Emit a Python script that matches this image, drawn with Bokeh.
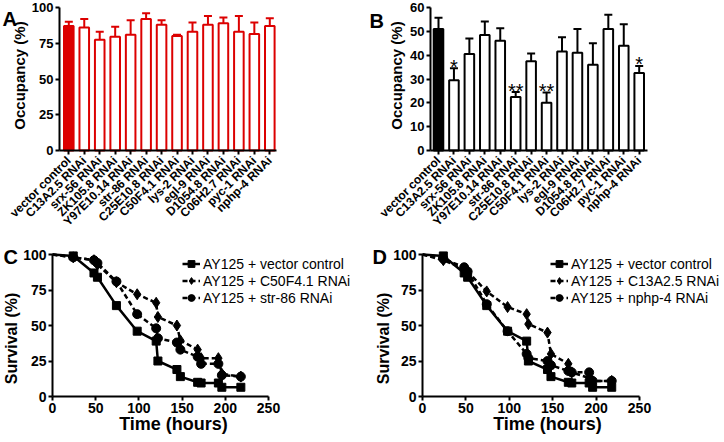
import math
from bokeh.plotting import figure
from bokeh.models import (ColumnDataSource, Whisker, TeeHead, FixedTicker, Label,
                          Legend, LegendItem, Range1d)
from bokeh.layouts import column, row
from bokeh.core.properties import value
from bokeh.embed import file_html
from bokeh.resources import INLINE

FONT = "Liberation Sans"
RED = "#dc0000"

# ---------------- data ----------------
categories = ["vector control", "C13A2.5 RNAi", "srx-56 RNAi", "ZK105.8 RNAi",
              "Y97E10.14 RNAi", "str-86 RNAi", "C25E10.8 RNAi", "C50F4.1 RNAi",
              "lys-2 RNAi", "egl-9 RNAi", "D1054.8 RNAi", "C06H2.7 RNAi",
              "pyc-1 RNAi", "nphp-4 RNAi"]
occ_a = [87, 86, 77.5, 79.5, 81, 92, 88, 80, 83, 88, 89, 83, 81.5, 87]
err_a = [3, 6, 5.5, 7, 10, 4, 3, 1, 6.5, 6, 4, 11, 8, 5.5]
occ_b = [51, 29.5, 40.5, 48.5, 46, 22.5, 37.5, 20, 41.5, 41, 36, 51, 44, 32.5]
err_b = [4.7, 5, 6.5, 5.6, 5.3, 2, 3.2, 4.3, 6, 10, 9, 6, 9, 3]
stars_b = ["", "*", "", "", "", "**", "", "**", "", "", "", "", "", "*"]
a_ticks = [0, 25, 50, 75, 100]
b_ticks = [0, 10, 20, 30, 40, 50, 60]

time_h = [0, 24, 48, 52, 74, 98, 120, 122, 144, 148, 168, 172, 192, 196, 218]
surv_vector = [100, 99, 87, 84, 64, 46, 39, 25, 19, 14, 10, 9.5, 9.5, 6.5, 6.5]
surv_c50f4_1 = [100, 98, 96, 93, 80.5, 72, 66, 56, 50, 39.5, 33, 27, 27, 16, 14]
surv_str86 = [100, 98, 96, 94, 81, 58, 48, 41, 38, 33, 28, 23, 23, 15, 14]
surv_c13a2_5 = [100, 96, 90, 88, 74, 63, 58, 51, 45, 30, 23, 17, 13, 11, 11]
surv_nphp4 = [100, 97, 91, 88, 65, 46, 30, 27, 25, 22, 18, 17, 17, 11, 11]
surv_y_ticks = [0, 25, 50, 75, 100]
time_ticks = [0, 50, 100, 150, 200, 250]


class Geom:
    """Maps canvas pixels to data so that the frame fills the whole canvas."""
    def __init__(self, w, h, cxa, xa, cxb, xb, cya, ya, cyb, yb):
        self.w, self.h = w, h
        self.sx = (cxb - cxa) / (xb - xa)
        self.sy = (cyb - cya) / (ya - yb)
        self.x0 = xa - cxa / self.sx
        self.x1 = xa + (w - cxa) / self.sx
        self.y1 = ya + cya / self.sy
        self.y0 = yb - (h - cyb) / self.sy

    def data(self, cx, cy):
        return self.x0 + cx / self.sx, self.y1 - cy / self.sy


def make_fig(g, tick_px):
    p = figure(width=g.w, height=g.h, x_range=Range1d(g.x0, g.x1),
               y_range=Range1d(g.y0, g.y1), output_backend="svg",
               toolbar_location=None, min_border=0,
               min_border_left=0, min_border_right=0,
               min_border_top=0, min_border_bottom=0)
    p.xgrid.visible = False
    p.ygrid.visible = False
    p.outline_line_color = None
    p.background_fill_color = "white"
    p.border_fill_color = "white"
    for ax in p.axis:
        ax.axis_line_width = 2
        ax.axis_line_color = "black"
        ax.major_tick_line_width = 2
        ax.major_tick_line_color = "black"
        ax.major_tick_out = 4
        ax.major_tick_in = 0
        ax.minor_tick_out = 0
        ax.minor_tick_in = 0
        ax.major_label_standoff = 2
        ax.major_label_text_font = FONT
        ax.major_label_text_font_style = "bold"
        ax.major_label_text_font_size = tick_px
        ax.major_label_text_color = "black"
    return p


def add_text(p, g, text, cx, cy, size, bold=True, angle=0.0,
             align="center", baseline="middle"):
    x, y = g.data(cx, cy)
    p.add_layout(Label(x=x, y=y, text=text, text_font=FONT, text_font_size=size,
                       text_font_style="bold" if bold else "normal",
                       text_align=align, text_baseline=baseline, angle=angle,
                       text_color="black"))


def bar_panel(g, occ, err, color, y_ticks, xbounds, ybounds, letter, letter_xy,
              ylab_xy, stars=None):
    p = make_fig(g, "13px")
    xs = list(range(len(categories)))
    src = ColumnDataSource(dict(
        x=xs, occ=occ, upper=[o + e for o, e in zip(occ, err)],
        fill=[color] + ["white"] * (len(categories) - 1),
        base=[ybounds[0]] * len(categories), cat=categories))
    p.vbar(x="x", top="occ", bottom=0, width=0.62, source=src,
           fill_color="fill", line_color=color, line_width=2)
    wh = Whisker(source=src, base="x", lower="occ", upper="upper", dimension="height",
                 line_color=color, line_width=2,
                 upper_head=TeeHead(size=8, line_color=color, line_width=2),
                 lower_head=None)
    p.add_layout(wh)
    if stars is not None:
        ssrc = ColumnDataSource(dict(x=xs, y=[o + e + 0.6 for o, e in zip(occ, err)], t=stars))
        p.text(x="x", y="y", text="t", source=ssrc, text_align="center",
               text_baseline="alphabetic", text_font=value(FONT),
               text_font_size="20px", text_color="black")
    # category names, rotated 45 degrees, ending just below each tick
    p.text(x="x", y="base", text="cat", source=src, angle=math.pi / 4,
           text_align="right", text_baseline="middle", y_offset=8,
           text_font=value(FONT), text_font_style="bold", text_font_size="12px",
           text_color="black")
    p.xaxis.ticker = FixedTicker(ticks=xs)
    p.xaxis.major_label_overrides = {i: "" for i in xs}
    p.xaxis.fixed_location = ybounds[0]
    p.xaxis.bounds = xbounds
    p.yaxis.ticker = FixedTicker(ticks=y_ticks)
    p.yaxis.fixed_location = xbounds[0]
    p.yaxis.bounds = ybounds
    add_text(p, g, "Occupancy (%)", ylab_xy[0], ylab_xy[1], "15px", angle=math.pi / 2)
    add_text(p, g, letter, letter_xy[0], letter_xy[1], "20px", align="left",
             baseline="alphabetic")
    return p


def surv_panel(g, series, letter, letter_xy, ylab_xy, xlab_xy, legend_xy):
    p = make_fig(g, "14px")
    items = []
    for label, surv, marker, size, dash in series:
        ln = p.line(time_h, surv, line_color="black", line_width=2.5, line_dash=dash)
        sc = p.scatter(time_h[1:], surv[1:], marker=marker, size=size,
                       fill_color="black", line_color="black")
        items.append(LegendItem(label=label, renderers=[ln, sc]))
    leg = Legend(items=items, location=legend_xy, padding=0, margin=0, spacing=0,
                 glyph_width=18, glyph_height=17, label_height=17, label_standoff=3,
                 label_text_font=FONT, label_text_font_size="14px",
                 label_text_color="black", border_line_color=None,
                 background_fill_alpha=0)
    p.add_layout(leg)
    p.xaxis.ticker = FixedTicker(ticks=time_ticks)
    p.yaxis.ticker = FixedTicker(ticks=surv_y_ticks)
    p.xaxis.bounds = (0, 250)
    p.yaxis.bounds = (0, 100)
    p.xaxis.fixed_location = 0
    p.yaxis.fixed_location = 0
    add_text(p, g, "Survival (%)", ylab_xy[0], ylab_xy[1], "16px", angle=math.pi / 2)
    add_text(p, g, "Time (hours)", xlab_xy[0], xlab_xy[1], "18px")
    add_text(p, g, letter, letter_xy[0], letter_xy[1], "20px", align="left",
             baseline="alphabetic")
    return p


# canvas geometry (pixels) -> data anchors
g_a = Geom(362, 230, 68.3, 0, 269.3, 13, 7, 100, 150, 0)
g_b = Geom(362, 230, 76.0, 0, 276.7, 13, 7, 60, 150, 0)
g_c = Geom(362, 210, 52, 0, 268, 250, 24, 100, 166, 0)
g_d = Geom(362, 210, 60, 0, 277, 250, 24, 100, 166, 0)

pA = bar_panel(g_a, occ_a, err_a, RED, a_ticks, (-0.6, 13.43), (0, 100),
               "A", (2, 18), (19, 75))
pB = bar_panel(g_b, occ_b, err_b, "black", b_ticks, (-0.52, 13.54), (0, 60),
               "B", (7, 20), (33.5, 75), stars=stars_b)

pC = surv_panel(g_c, [
    ("AY125 + vector control", surv_vector, "square", 8, "solid"),
    ("AY125 + C50F4.1 RNAi", surv_c50f4_1, "diamond", 11, "5 3"),
    ("AY125 + str-86 RNAi", surv_str86, "circle", 9, "5 3"),
], "C", (3, 26), (11, 108), (173, 193), (182, 134))

pD = surv_panel(g_d, [
    ("AY125 + vector control", surv_vector, "square", 8, "solid"),
    ("AY125 + C13A2.5 RNAi", surv_c13a2_5, "diamond", 11, "5 3"),
    ("AY125 + nphp-4 RNAi", surv_nphp4, "circle", 9, "5 3"),
], "D", (10, 26), (20.5, 108), (185, 193), (188, 134))

layout = column(row(pA, pB), row(pC, pD))
open("out.html", "w").write(file_html(layout, INLINE))
